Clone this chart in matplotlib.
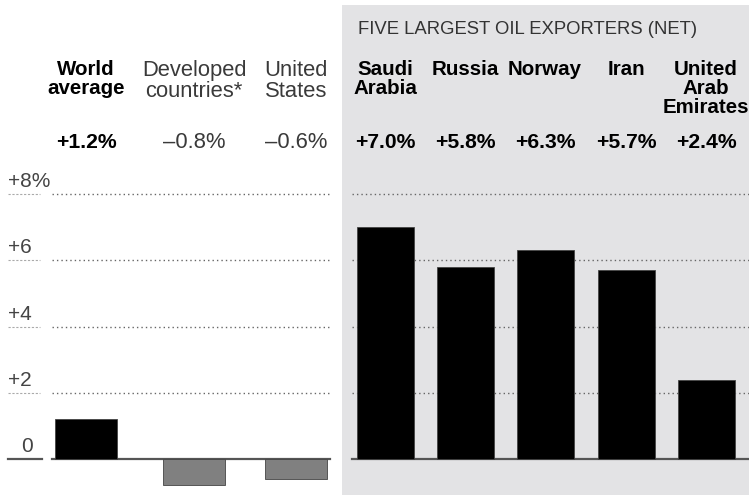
import matplotlib.pyplot as plt
from matplotlib.patches import Rectangle

plt.rcParams['font.family'] = ['Liberation Sans', 'DejaVu Sans']

names = ['World\naverage', 'Developed\ncountries*', 'United\nStates',
         'Saudi\nArabia', 'Russia', 'Norway', 'Iran', 'United\nArab\nEmirates']
values = [1.2, -0.8, -0.6, 7.0, 5.8, 6.3, 5.7, 2.4]
value_labels = ['+1.2%', '\u20130.8%', '\u20130.6%', '+7.0%', '+5.8%', '+6.3%', '+5.7%', '+2.4%']
bold = [True, False, False, True, True, True, True, True]
yticks = [8, 6, 4, 2, 0]
ytick_labels = ['+8%', '+6', '+4', '+2', '0']
panel_title = 'FIVE LARGEST OIL EXPORTERS (NET)'

# layout (pixel units, figure is 749 x 495)
W, H = 749, 495
centers = [86, 194, 296, 385, 465, 545, 626, 706]
widths = [62, 62, 62, 57, 57, 57, 57, 57]
zero_px, px_per_unit = 459, 33.1
panel_x = 342

fig = plt.figure(figsize=(W / 100, H / 100), dpi=100)
ax = fig.add_axes([0, 0, 1, 1])
ax.set_xlim(0, W)
ax.set_ylim((zero_px - H) / px_per_unit, zero_px / px_per_unit)
ax.axis('off')

# grey panel for oil exporters
ax.add_patch(Rectangle((panel_x / W, 0), 1 - panel_x / W, 1 - 5 / H,
                       transform=ax.transAxes, color='#e3e3e5', zorder=0, lw=0))

# gridlines
for t in yticks:
    if t == 0:
        style = dict(color='#555555', lw=1.6, ls='-')
    else:
        style = dict(color='#666666', lw=1.0, ls=(0, (1, 2.2)))
    ax.plot([52, 330], [t, t], zorder=1, **style)
    ax.plot([352, W], [t, t], zorder=1, **style)
    if t == 0:
        ax.plot([8, 42], [t, t], zorder=1, **style)
    else:
        ax.plot([8, 40], [t, t], zorder=1, color='#aaaaaa', lw=0.8, ls=(0, (2, 1.5)))

# tick labels above the lines
for t, lab in zip(yticks, ytick_labels):
    x = 21 if t == 0 else 8
    ax.annotate(lab, (x, t), xytext=(0, 3), textcoords='offset pixels',
                ha='left', va='bottom', fontsize=15, color='#444444')

# bars
colors = ['#000000' if v >= 0 else '#808080' for v in values]
ax.bar(centers, values, width=widths, color=colors, edgecolor='#444444', lw=0.6, zorder=2)

# column headers and value labels
for c, name, lab, b in zip(centers, names, value_labels, bold):
    weight = 'bold' if b else 'normal'
    col = '#000000' if b else '#3a3a3a'
    size = 14.8 if b else 15.8
    fig.text(c / W, 1 - 60 / H, name, ha='center', va='top', fontsize=size,
             fontweight=weight, color=col, linespacing=1.0, multialignment='center')
    fig.text(c / W, 1 - 143 / H, lab, ha='center', va='center', fontsize=15.2 if b else 15.8,
             fontweight=weight, color=col)

fig.text(358 / W, 1 - 30 / H, panel_title, ha='left', va='center',
         fontsize=13.3, color='#333333')

fig.savefig('out.png', dpi=100)
